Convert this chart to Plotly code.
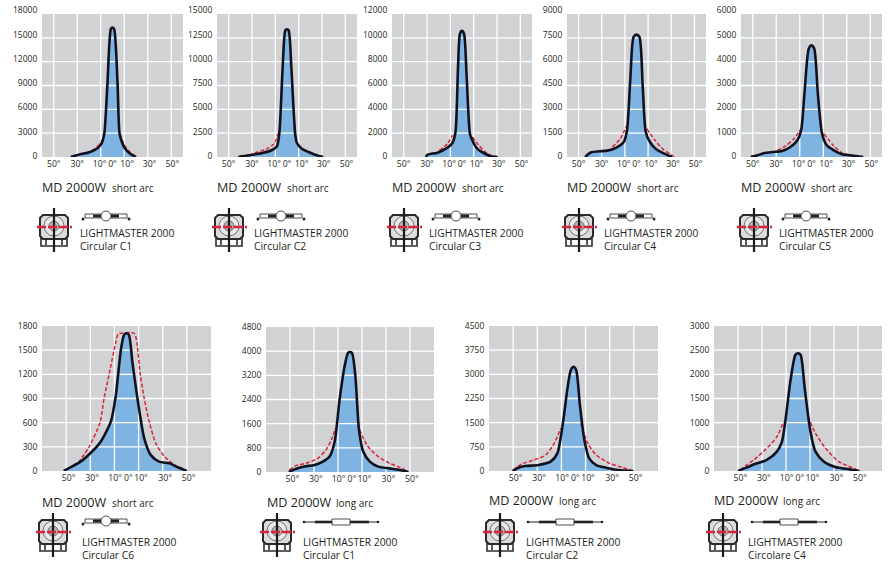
import plotly.graph_objects as go

W, H = 892, 575

# angles (deg) and intensities (cd)
C1_ANG = [-35.5, -27.5, -19, -12, -9, -7, -4.3, -1.4, 0, 1.4, 4.3, 6, 8, 10.8, 15, 20]
C1_VAL = [0, 336, 630, 1180, 1800, 2940, 9240, 16100, 16300, 16100, 9240, 2940, 1900, 1050, 420, 0]
C1_RED_ANG = [-27, -20, -15, -10, -8, None, 6.5, 8, 10, 13, 16, 20]
C1_RED = [300, 650, 1050, 1800, 2300, None, 2900, 2200, 1500, 900, 500, 50]

C2_ANG = [-41.8, -32.5, -21, -12.7, -8.5, -6.5, -3.7, -1.4, 0, 1.4, 3.7, 7, 8.5, 12.7, 18.4, 24, 31]
C2_VAL = [0, 175, 420, 735, 1155, 2625, 9450, 13300, 13400, 13300, 9450, 2450, 1470, 875, 525, 245, 0]
C2_RED_ANG = [-32.5, -27, -18, -11, -7.6]
C2_RED = [180, 455, 805, 1400, 2450]

C3_ANG = [-31, -29.4, -21, -12.4, -8.2, -5.6, -3.4, -1.7, 0, 1.7, 4, 6.8, 8.8, 13, 18.6, 24, 30.5]
C3_VAL = [0, 196, 364, 784, 1176, 2100, 7560, 10360, 10580, 10360, 6720, 1960, 1400, 700, 336, 84, 0]
C3_RED_ANG = [-19.5, -12.4, -8.2, None, 8.8, 14.4, 20, 26]
C3_RED = [560, 1120, 1820, None, 1680, 980, 420, 56]

C4_ANG = [-44.4, -39, -32, -25, -18, -11, -8.2, -5.4, -2.5, 0, 2.5, 5.4, 8, 11.6, 17, 24, 30.5]
C4_VAL = [0, 294, 357, 400, 567, 945, 1680, 4830, 7560, 7700, 7560, 4410, 1575, 945, 483, 210, 0]
C4_RED_ANG = [-21, -14, -8.8, None, 8.8, 16, 23, 28.5, 33]
C4_RED = [630, 1155, 1932, None, 1785, 1050, 483, 210, 0]

C5_ANG = [-51.7, -46, -40, -33, -25, -18, -12, -8.8, -6, -2.3, 0, 2.3, 5.4, 9, 13, 19, 26, 33, 44]
C5_VAL = [0, 70, 168, 210, 252, 420, 700, 1120, 2660, 4550, 4690, 4550, 2660, 980, 490, 280, 112, 70, 0]
C5_RED_ANG = [-29, -22, -15, -8.8, None, 10.5, 19, 26, 31.6]
C5_RED = [280, 462, 770, 1190, None, 980, 462, 168, 84]

C6_ANG = [-52, -46.4, -38, -30, -21.4, -13, -9, -4.7, -2, 0, 2, 5, 10.5, 14.7, 20, 27, 35.5, 42.5, 50]
C6_VAL = [0, 46, 116, 220, 364, 613, 920, 1500, 1690, 1710, 1690, 1340, 760, 405, 200, 116, 95, 46, 0]
C6_RED_ANG = [-40, -31, -22, -18.6, -14.4, -9, -7, -4, 6.4, 8.6, 11.4, 14.7, 19, 24.4, 31.4, 39.7, 46.7]
C6_RED = [100, 300, 600, 900, 1200, 1590, 1700, 1710, 1710, 1590, 1200, 900, 600, 340, 180, 75, 10]

L1_ANG = [-51, -46, -39, -29.6, -22.6, -17, -12.8, -8.7, -4.5, -1.7, 0, 1.7, 4.5, 7.5, 11, 16.5, 23.5, 33, 41.6, 48.6]
L1_VAL = [0, 88, 177, 232, 343, 510, 1000, 2390, 3500, 3940, 3970, 3940, 3160, 1390, 675, 343, 177, 120, 66, 0]
L1_RED_ANG = [-50.5, -45, -36.6, -26.8, -20, -15.6, -12, None, 8, 15, 23.5, 33, 41.6, 48.6]
L1_RED = [66, 210, 288, 453, 730, 1060, 1450, None, 1390, 840, 510, 288, 155, 0]

L2_ANG = [-50.4, -45.7, -40, -29, -19, -13.4, -9, -5, -2.2, 0, 2.2, 5.3, 9, 13, 18.8, 27, 37, 49.6]
L2_VAL = [0, 103, 155, 186, 290, 548, 1427, 2564, 3133, 3236, 3133, 2047, 962, 393, 186, 103, 31, 0]
L2_RED_ANG = [-50, -43, -33, -23, -16, -10.6, None, 6, 11.8, 18.8, 30, 41, 49.6]
L2_RED = [31, 217, 341, 496, 858, 1323, None, 1478, 858, 496, 238, 103, 0]

L4_ANG = [-50, -43, -36, -26, -17.6, -13.4, -10.6, -6.4, -2.2, 0, 2.2, 5.6, 10.4, 14.6, 21.6, 31, 42.6, 51]
L4_VAL = [0, 69, 145, 228, 400, 607, 1021, 1850, 2400, 2436, 2400, 1711, 814, 400, 193, 83, 35, 0]
L4_RED_ANG = [-48.5, -37, -27.5, -17.6, -12, None, 8.4, 14.6, 23, 34, 45, 51.5]
L4_RED = [21, 228, 435, 710, 1021, None, 1125, 780, 470, 193, 69, 0]

Y_TICKS = [
    [0, 3000, 6000, 9000, 12000, 15000, 18000],
    [0, 2500, 5000, 7500, 10000, 12500, 15000],
    [0, 2000, 4000, 6000, 8000, 10000, 12000],
    [0, 1500, 3000, 4500, 6000, 7500, 9000],
    [0, 1000, 2000, 3000, 4000, 5000, 6000],
    [0, 300, 600, 900, 1200, 1500, 1800],
    [0, 800, 1600, 2400, 3200, 4000, 4800],
    [0, 750, 1500, 2250, 3000, 3750, 4500],
    [0, 500, 1000, 1500, 2000, 2500, 3000],
]
X_GRID = [-50, -30, -10, 10, 30, 50]
X_TEXT = ["50°", "30°", "10°", "0°", "10°", "30°", "50°"]
X_TEXT_POS_TOP = [-50, -30, -11, 0, 12.5, 31.5, 51]
X_TEXT_POS_BOTTOM = [-48, -28.5, -9.5, 1.5, 12, 32, 51.5]

CURVES = [
    (C1_ANG, C1_VAL, C1_RED_ANG, C1_RED), (C2_ANG, C2_VAL, C2_RED_ANG, C2_RED),
    (C3_ANG, C3_VAL, C3_RED_ANG, C3_RED), (C4_ANG, C4_VAL, C4_RED_ANG, C4_RED),
    (C5_ANG, C5_VAL, C5_RED_ANG, C5_RED), (C6_ANG, C6_VAL, C6_RED_ANG, C6_RED),
    (L1_ANG, L1_VAL, L1_RED_ANG, L1_RED), (L2_ANG, L2_VAL, L2_RED_ANG, L2_RED),
    (L4_ANG, L4_VAL, L4_RED_ANG, L4_RED),
]
ARC = ["short arc"] * 6 + ["long arc"] * 3
OPTIC = ["Circular C1", "Circular C2", "Circular C3", "Circular C4", "Circular C5",
         "Circular C6", "Circular C1", "Circular C2", "Circolare C4"]

# panel boxes in pixels: left, right, top, bottom
BOX = [(42, 183, 14, 157), (217, 357, 14, 157), (392, 532, 14, 157), (567, 706, 14, 157), (741, 882, 14, 157),
       (42, 211, 326, 471), (266, 434, 327, 472), (489, 658, 326, 471), (714, 882, 326, 471)]
# text and icon anchors: title x, title y, arc x, optic text x, icon x, icon y, lamp x
ANCHOR = [(42, 187, 112, 80, 54, 227, 81), (217, 187, 287, 254, 229, 227, 256), (392, 187, 462, 429, 404, 227, 431),
          (567, 187, 637, 604, 579, 227, 606), (741, 187, 811, 779, 754, 227, 781), (42, 502, 112, 82, 53, 532, 81),
          (267, 502, 336, 303, 277, 532, 303), (489, 500, 559, 526, 500, 532, 527), (714, 500, 783, 748, 723, 532, 751)]

FONT = "Open Sans, sans-serif"
BG = "#d1d2d4"
BLUE = "#7fb4e2"
NAVY = "#10131f"
RED = "#d9233c"
TXT = "#231f20"
DARK = "#2b2b2b"


def px(x):
    return x / W


def py(y):
    return 1 - y / H


def rounded(x0, y0, x1, y1, r):
    return (f"M {px(x0 + r)} {py(y0)} L {px(x1 - r)} {py(y0)} L {px(x1)} {py(y0 + r)} L {px(x1)} {py(y1 - r)} "
            f"L {px(x1 - r)} {py(y1)} L {px(x0 + r)} {py(y1)} L {px(x0)} {py(y1 - r)} L {px(x0)} {py(y0 + r)} Z")


def rect(x0, y0, x1, y1, **kw):
    return dict(type="rect", xref="paper", yref="paper", x0=px(x0), x1=px(x1), y0=py(y0), y1=py(y1), **kw)


def circle(cx, cy, r, **kw):
    return dict(type="circle", xref="paper", yref="paper", x0=px(cx - r), x1=px(cx + r), y0=py(cy - r), y1=py(cy + r), **kw)


def seg(x0, y0, x1, y1, color, width, dash="solid"):
    return dict(type="line", xref="paper", yref="paper", x0=px(x0), x1=px(x1), y0=py(y0), y1=py(y1),
                line=dict(color=color, width=width, dash=dash))


def fixture_icon(cx, cy):
    return [
        rect(cx - 13, cy + 10, cx + 13, cy + 19, fillcolor="#ffffff", line=dict(color=DARK, width=1.6)),
        seg(cx - 8, cy + 11, cx - 8, cy + 18, DARK, 1.6),
        seg(cx + 8, cy + 11, cx + 8, cy + 18, DARK, 1.6),
        dict(type="path", xref="paper", yref="paper", path=rounded(cx - 14, cy - 12, cx + 14, cy + 12, 3),
             fillcolor="#dcdcdc", line=dict(color=DARK, width=2)),
        circle(cx, cy - 1, 10, fillcolor="#e8e8e8", line=dict(color="#555555", width=0.8)),
        circle(cx, cy - 1, 5, fillcolor="#b5b5b5", line=dict(color="#555555", width=0.8)),
        seg(cx, cy - 19, cx, cy + 25, "#1a1a1a", 2.2),
        seg(cx - 17, cy, cx + 18, cy, RED, 2.4, "9px,2px"),
    ]


def short_lamp(x, y):
    return [
        rect(x + 4, y - 3, x + 46, y + 1, fillcolor="#ffffff", line=dict(color="#222222", width=0.8)),
        rect(x + 12, y - 2.5, x + 20, y + 0.5, fillcolor="#222222", line=dict(width=0)),
        rect(x + 30, y - 2.5, x + 38, y + 0.5, fillcolor="#222222", line=dict(width=0)),
        circle(x + 25, y - 1, 5, fillcolor="#ffffff", line=dict(color="#222222", width=0.8)),
        circle(x + 2, y + 2, 1.5, fillcolor="#222222", line=dict(width=0)),
        circle(x + 48, y + 2, 1.5, fillcolor="#222222", line=dict(width=0)),
    ]


def long_lamp(x, y):
    return [
        seg(x, y, x + 76, y, "#222222", 1.2),
        seg(x + 12, y, x + 30, y, "#222222", 2.6),
        seg(x + 46, y, x + 66, y, "#222222", 2.6),
        circle(x + 1, y, 1.3, fillcolor="#222222", line=dict(width=0)),
        circle(x + 75, y, 1.3, fillcolor="#222222", line=dict(width=0)),
        rect(x + 29, y - 3, x + 47, y + 3, fillcolor="#ffffff", line=dict(color="#222222", width=0.8)),
    ]


fig = go.Figure()
layout = {}
shapes = []
notes = []

for i, (ang, val, red_ang, red) in enumerate(CURVES):
    n = i + 1
    xa, ya = ("x", "y") if n == 1 else (f"x{n}", f"y{n}")
    left, right, top, bottom = BOX[i]
    ticks = Y_TICKS[i]
    span = 60 if i < 5 else 70

    grid_x, grid_y = [], []
    for g in X_GRID:
        grid_x += [g, g, None]
        grid_y += [0, ticks[-1], None]
    for t in ticks[1:-1]:
        grid_x += [-span, span, None]
        grid_y += [t, t, None]

    fig.add_trace(go.Scatter(x=ang, y=val, xaxis=xa, yaxis=ya, mode="lines", fill="tozeroy", fillcolor=BLUE,
                             line=dict(width=0, shape="spline", smoothing=0.7), hoverinfo="skip"))
    fig.add_trace(go.Scatter(x=grid_x, y=grid_y, xaxis=xa, yaxis=ya, mode="lines",
                             line=dict(color="#ffffff", width=1.3), hoverinfo="skip"))
    fig.add_trace(go.Scatter(x=red_ang, y=red, xaxis=xa, yaxis=ya, mode="lines",
                             line=dict(color=RED, width=1.5, dash="4px,2px", shape="spline", smoothing=0.7), hoverinfo="skip"))
    fig.add_trace(go.Scatter(x=ang, y=val, xaxis=xa, yaxis=ya, mode="lines",
                             line=dict(color=NAVY, width=2.6, shape="spline", smoothing=0.7)))

    # top row: the scale labels are spread a little wider than the grid, the top one sits 4px above the panel
    stretch = 1.03 if i < 5 else 1
    tick_pos = [(1 + t / ticks[-1] * 145.7) / 143 * ticks[-1] for t in ticks] if i < 5 else ticks

    layout[xa.replace("x", "xaxis")] = dict(
        domain=[px(left), px(right)], range=[-span, span], anchor=ya, showgrid=False, zeroline=False,
        tickmode="array", tickvals=X_TEXT_POS_TOP if i < 5 else X_TEXT_POS_BOTTOM, ticktext=X_TEXT,
        ticks="", showline=False, tickangle=0, tickfont=dict(family=FONT, size=8.7, color=TXT))
    layout[ya.replace("y", "yaxis")] = dict(
        domain=[py(bottom), py(bottom - (bottom - top) * stretch)], range=[0, ticks[-1] * stretch], anchor=xa,
        showgrid=False, zeroline=False,
        tickmode="array", tickvals=tick_pos, ticktext=[str(t) for t in ticks],
        ticks="outside", ticklen=2, tickcolor="rgba(0,0,0,0)", showline=False,
        tickfont=dict(family=FONT, size=8.5, color=TXT))

    title_x, title_y, arc_x, optic_x, icon_x, icon_y, lamp_x = ANCHOR[i]
    text_y = 233 if i < 5 else 542
    for x, y, txt, size in [(title_x, title_y, "MD 2000W", 12.6), (arc_x, title_y + 1, ARC[i], 10),
                            (optic_x, text_y, "LIGHTMASTER 2000", 10.3), (optic_x, text_y + 13, OPTIC[i], 10.3)]:
        notes.append(dict(xref="paper", yref="paper", x=px(x - 2), y=py(y), xanchor="left", yanchor="middle",
                          text=txt, showarrow=False, font=dict(family=FONT, size=size, color=TXT)))
    shapes += fixture_icon(icon_x, icon_y)
    if i < 6:
        shapes += short_lamp(lamp_x, 217 if i < 5 else 522)
    else:
        shapes += long_lamp(lamp_x, 522)
    shapes.append(rect(left, top, right, bottom, fillcolor=BG, layer="below", line=dict(width=0)))

fig.update_layout(
    width=W, height=H, autosize=False, margin=dict(l=0, r=0, t=0, b=0, autoexpand=False),
    paper_bgcolor="#ffffff", plot_bgcolor="#ffffff", showlegend=False, hovermode=False,
    shapes=shapes, annotations=notes, **layout)

# the page's default body margin would push the figure off by 8px
fig.write_html("out.html", config=dict(displayModeBar=False), post_script="document.body.style.margin='0';")
